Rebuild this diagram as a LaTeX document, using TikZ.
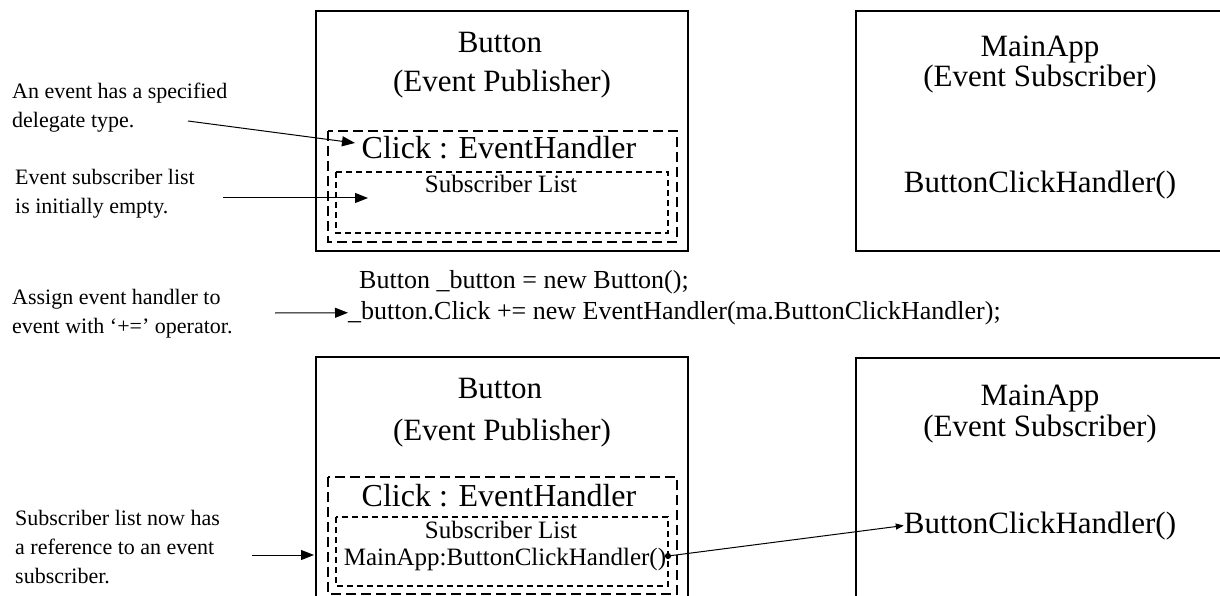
\documentclass[tikz,border=0pt]{standalone}
\usepackage{fontspec}
\setmainfont{Liberation Serif}
\usetikzlibrary{arrows.meta}

\tikzset{
  frame/.style={draw, line width=1.6pt},
  outerdash/.style={draw, line width=1.6pt, dash pattern=on 10pt off 5pt},
  innerdash/.style={draw, line width=1.4pt, dash pattern=on 6pt off 4pt},
  title/.style={anchor=base, inner sep=0pt, font=\fontsize{31}{36}\selectfont},
  evt/.style={anchor=base, inner sep=0pt, font=\fontsize{32}{36}\selectfont},
  entry/.style={anchor=base, inner sep=0pt, font=\fontsize{25}{30}\selectfont},
  code/.style={anchor=base west, inner sep=0pt, font=\fontsize{26}{31}\selectfont},
  % base of a note is the baseline of its last line
  note/.style={anchor=base west, inner sep=0pt, align=left, font=\fontsize{22}{29}\selectfont},
  pointer/.style={line width=1pt, -{Triangle[length=13pt,width=10pt]}},
  link/.style={line width=1pt, -{Triangle[length=8pt,width=6pt]}}
}

\begin{document}
\begin{tikzpicture}[x=1pt, y=-1pt]
  \useasboundingbox (0,0) rectangle (1220,596);
  \clip (0,0) rectangle (1220,596);

  % before subscribing
  \draw[frame] (316,11) rectangle (688,251);
  \node[title] (pubA) at (500,53) {Button};
  \node[title] (pubArole) at (502,92) {(Event Publisher)};
  \draw[outerdash] (328,131) rectangle (677,242);
  \node[evt] (clickA) at (499,159) {Click : EventHandler};
  \draw[innerdash] (336,172) rectangle (668,233);
  \node[entry] (listA) at (501,193) {Subscriber List};

  \draw[frame] (856,11) rectangle (1226,251);
  \node[title] (subA) at (1040,57) {MainApp};
  \node[title] (subArole) at (1040,87) {(Event Subscriber)};
  \node[title] (handlerA) at (1040,193) {ButtonClickHandler()};

  \node[note] (typeNote) at (12,128) {An event has a specified\\delegate type.};
  \node[note] (emptyNote) at (15,214) {Event subscriber list\\is initially empty.};
  \coordinate (typeFrom) at (188,121);
  \coordinate (typeTo) at (355,143);
  \coordinate (emptyFrom) at (223,198);
  \coordinate (emptyTo) at (368,198);
  \draw[pointer] (typeFrom) -- (typeTo);
  \draw[pointer] (emptyFrom) -- (emptyTo);

  % the subscribing code
  \node[note] (assignNote) at (12,333) {Assign event handler to\\event with `+=' operator.};
  \node[code] (codeA) at (359,288) {Button \_button = new Button();};
  \node[code] (codeB) at (348,319) {\_button.Click += new EventHandler(ma.ButtonClickHandler);};
  \coordinate (assignFrom) at (275,313);
  \draw[pointer] (assignFrom) -- (codeB.west);

  % after subscribing
  \draw[frame] (316,357) rectangle (688,620);
  \node[title] (pubB) at (500,398) {Button};
  \node[title] (pubBrole) at (502,440) {(Event Publisher)};
  \draw[outerdash] (328,477) rectangle (677,594);
  \node[evt] (clickB) at (499,506) {Click : EventHandler};
  \draw[innerdash] (336,517) rectangle (668,586);
  \node[entry] (listB) at (501,538) {Subscriber List};
  \node[entry] (refB) at (505,565) {MainApp:ButtonClickHandler()};
  \node[circle, fill, inner sep=2.2pt] (refDot) at (668,556) {};

  \draw[frame] (856,358) rectangle (1226,620);
  \node[title] (subB) at (1040,405) {MainApp};
  \node[title] (subBrole) at (1040,436) {(Event Subscriber)};
  \node[title] (handlerB) at (1040,533) {ButtonClickHandler()};

  \node[note] (refNote) at (15,583) {Subscriber list now has\\a reference to an event\\subscriber.};
  \coordinate (refFrom) at (252,555);
  \coordinate (refTo) at (314,555);
  \draw[pointer] (refFrom) -- (refTo);
  \draw[link] (refDot.center) -- (handlerB.west);
\end{tikzpicture}
\end{document}
